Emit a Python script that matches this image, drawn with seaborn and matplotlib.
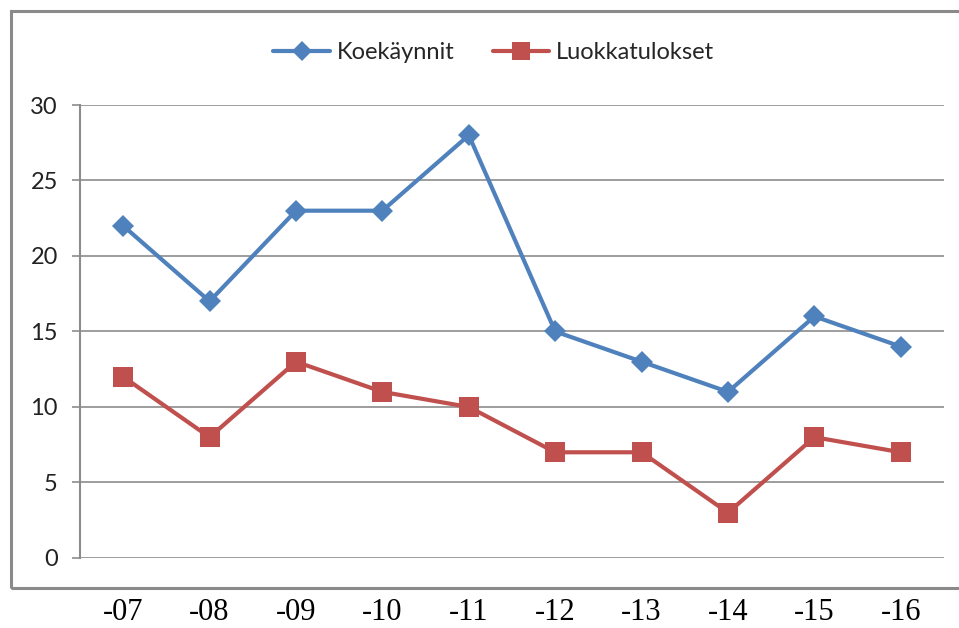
import pandas as pd
import numpy as np
import seaborn as sns
import matplotlib.pyplot as plt
from matplotlib.patches import Rectangle
from matplotlib.lines import Line2D

years = ["-07", "-08", "-09", "-10", "-11", "-12", "-13", "-14", "-15", "-16"]
koekaynnit = [22, 17, 23, 23, 28, 15, 13, 11, 16, 14]
luokkatulokset = [12, 8, 13, 11, 10, 7, 7, 3, 8, 7]
series_names = ["Koekäynnit", "Luokkatulokset"]

blue = "#4F81BD"
red = "#C0504D"
grid_col = "#8C8C8C"

df = pd.DataFrame({
	"Vuosi": years * 2,
	"Arvo": koekaynnit + luokkatulokset,
	"Sarja": [series_names[0]] * len(years) + [series_names[1]] * len(years),
})

sns.set_theme(style="white")
plt.rcParams['font.family'] = ['Lato', 'DejaVu Sans']

fig = plt.figure(figsize=(9.59, 6.28), dpi=100)
ax = fig.add_axes([0.0834, 0.1115, 0.901, 0.7213])

sns.lineplot(data=df, x="Vuosi", y="Arvo", hue="Sarja", style="Sarja",
	palette={series_names[0]: blue, series_names[1]: red},
	markers={series_names[0]: "D", series_names[1]: "s"},
	dashes=False, linewidth=3, markersize=11, markeredgewidth=0,
	sort=False, legend=False, ax=ax)
# bigger squares for the red series
for line in ax.get_lines():
	if line.get_marker() == "s":
		line.set_markersize(14)

ax.set_xlim(-0.5, len(years) - 0.5)
ax.set_ylim(0, 30)
ax.set_yticks(range(0, 31, 5))
ax.yaxis.grid(True, color=grid_col, linewidth=1.2)
ax.set_axisbelow(True)
for s in ["top", "right", "bottom"]:
	ax.spines[s].set_visible(False)
ax.spines["left"].set_color(grid_col)
ax.spines["left"].set_linewidth(1.5)
ax.tick_params(axis="y", direction="out", length=6, width=1.2, color=grid_col,
	pad=10, labelsize=17, labelcolor="#222222", left=True)
ax.tick_params(axis="x", length=0, pad=29)
for lab in ax.get_xticklabels():
	lab.set_fontfamily("Liberation Serif")
	lab.set_fontsize(22)
	lab.set_color("black")
ax.set_xlabel("")
ax.set_ylabel("")

handles = [
	Line2D([], [], color=blue, marker="D", linewidth=3, markersize=10, markeredgewidth=0),
	Line2D([], [], color=red, marker="s", linewidth=3, markersize=13, markeredgewidth=0),
]
fig.legend(handles, series_names, loc="center", bbox_to_anchor=(0.515, 0.916),
	ncol=2, frameon=False, fontsize=17, handlelength=2.4, columnspacing=1.6,
	handletextpad=0.3)

frame = Rectangle((11 / 959, 1 - 588 / 628), 1.02, (588 - 11) / 628,
	transform=fig.transFigure, fill=False, edgecolor="#8A8A8A", linewidth=2.2,
	clip_on=False)
fig.patches.append(frame)

fig.savefig("out.png", dpi=100)
